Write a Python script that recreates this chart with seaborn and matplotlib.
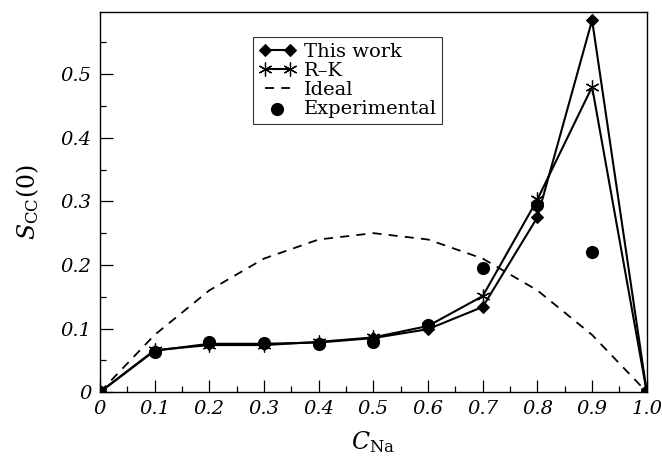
import matplotlib
matplotlib.use("Agg")
import matplotlib.pyplot as plt
from matplotlib.ticker import MultipleLocator, FixedLocator
import seaborn as sns
import pandas as pd

# Concentration of Na
c_na = [0.0, 0.1, 0.2, 0.3, 0.4, 0.5, 0.6, 0.7, 0.8, 0.9, 1.0]
# Concentration-concentration structure factor S_cc(0)
this_work = [0.0, 0.065, 0.076, 0.076, 0.078, 0.085, 0.099, 0.134, 0.275, 0.585, 0.0]
r_k = [0.0, 0.066, 0.074, 0.074, 0.079, 0.086, 0.104, 0.151, 0.303, 0.480, 0.0]
ideal = [0.0, 0.09, 0.16, 0.21, 0.24, 0.25, 0.24, 0.21, 0.16, 0.09, 0.0]
experimental = [0.0, 0.063, 0.079, 0.077, 0.075, 0.079, 0.105, 0.195, 0.295, 0.220, 0.0]

x_ticks = [0.0, 0.1, 0.2, 0.3, 0.4, 0.5, 0.6, 0.7, 0.8, 0.9, 1.0]
x_labels = ["0", "0.1", "0.2", "0.3", "0.4", "0.5", "0.6", "0.7", "0.8", "0.9", "1.0"]
y_ticks = [0.0, 0.1, 0.2, 0.3, 0.4, 0.5]
y_labels = ["0", "0.1", "0.2", "0.3", "0.4", "0.5"]

df = pd.DataFrame({"c": c_na, "this": this_work, "rk": r_k,
                   "ideal": ideal, "exp": experimental})

sns.set_style("ticks")
plt.rcParams["font.family"] = ["DejaVu Serif"]
plt.rcParams["mathtext.fontset"] = "dejavuserif"
plt.rcParams["text.color"] = "black"
plt.rcParams["axes.labelcolor"] = "black"
plt.rcParams["xtick.color"] = "black"
plt.rcParams["ytick.color"] = "black"
plt.rcParams["axes.edgecolor"] = "black"

fig = plt.figure(figsize=(6.62, 4.57), dpi=100)
ax = fig.add_axes([0.151, 0.142, 0.826, 0.832])

sns.lineplot(data=df, x="c", y="this", ax=ax, color="black", lw=1.5,
             marker="D", markersize=6, markeredgecolor="black",
             label="This work")
sns.lineplot(data=df, x="c", y="rk", ax=ax, color="black", lw=1.5,
             marker=(6, 2, 0), markersize=10, markeredgewidth=0.9,
             markeredgecolor="black", label="R\u2013K")
sns.lineplot(data=df, x="c", y="ideal", ax=ax, color="black", lw=1.3,
             linestyle=(0, (5, 4)), label="Ideal")
sns.scatterplot(data=df, x="c", y="exp", ax=ax, color="black", s=90,
                edgecolor="black", linewidth=0, label="Experimental",
                zorder=3)

ax.set_xlim(0, 1.0)
ax.set_ylim(0, 0.598)
ax.xaxis.set_major_locator(FixedLocator(x_ticks))
ax.set_xticklabels(x_labels)
ax.yaxis.set_major_locator(FixedLocator(y_ticks))
ax.set_yticklabels(y_labels)
ax.xaxis.set_minor_locator(MultipleLocator(0.05))
ax.yaxis.set_minor_locator(MultipleLocator(0.05))
ax.tick_params(which="both", direction="in", top=False, right=False,
               labelsize=14, width=0.9)
ax.tick_params(which="major", length=9, pad=6)
ax.tick_params(which="minor", length=4)
for lab in ax.get_xticklabels() + ax.get_yticklabels():
    lab.set_fontstyle("italic")
for sp in ax.spines.values():
    sp.set_linewidth(1.0)
    sp.set_visible(True)

ax.set_xlabel(r"$C_{\mathrm{Na}}$", fontsize=17, labelpad=8)
ax.set_ylabel(r"$S_{\mathrm{CC}}(\mathit{0})$", fontsize=17, labelpad=14)

leg = ax.legend(loc="upper left", bbox_to_anchor=(0.28, 0.934),
                frameon=True, fancybox=False, edgecolor="black",
                fontsize=14, handlelength=1.9, handletextpad=0.4,
                labelspacing=0.05, borderpad=0.3, borderaxespad=0,
                numpoints=2)
leg.get_frame().set_linewidth(0.8)
for t in leg.get_texts():
    t.set_color("black")

fig.savefig("out.png", dpi=100)
